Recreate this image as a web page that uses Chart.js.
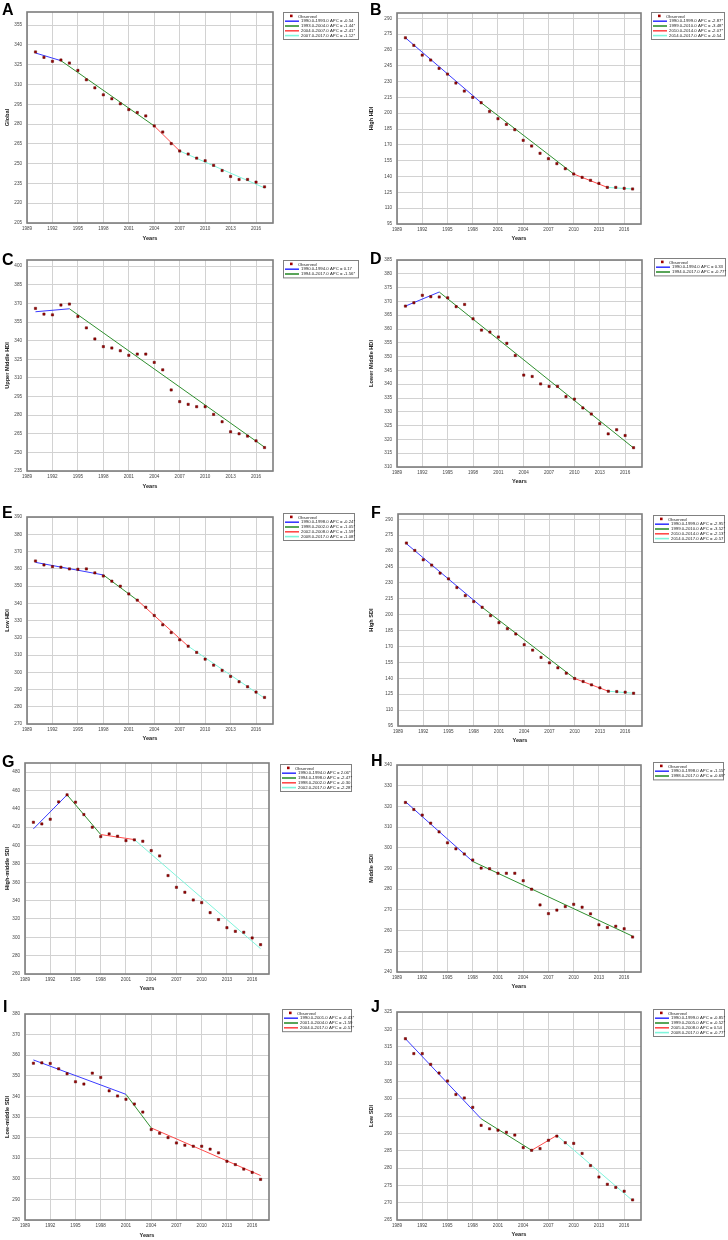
<!DOCTYPE html>
<html>
<head>
<meta charset="utf-8">
<script src="https://cdn.jsdelivr.net/npm/chart.js@4.4.1/dist/chart.umd.min.js"></script>
<style>
  body { margin: 0; background: #fff; font-family: "Liberation Sans", Arial, sans-serif; }
  #page { position: relative; width: 728px; height: 1240px; overflow: hidden; }
  .panel { position: absolute; width: 364px; height: 248px; }
  .panel canvas { position: absolute; left: 0; top: 0; }
  .letter { position: absolute; font-weight: bold; font-size: 16px; line-height: 16px; color: #000; }
</style>
</head>
<body>
<div id="page"></div>
<script>
const years = [1990, 1991, 1992, 1993, 1994, 1995, 1996, 1997, 1998, 1999, 2000, 2001, 2002, 2003,
               2004, 2005, 2006, 2007, 2008, 2009, 2010, 2011, 2012, 2013, 2014, 2015, 2016, 2017];
const xTicks = [1989, 1992, 1995, 1998, 2001, 2004, 2007, 2010, 2013, 2016];

// A - Global
const globalObs = [334.7, 330.6, 327.6, 328.6, 326.3, 320.7, 313.6, 307.5, 302.2, 299.2, 295.4, 291.0, 288.8, 286.2,
                   278.6, 274.0, 265.2, 259.6, 257.3, 254.2, 252.2, 248.7, 244.8, 240.3, 238.0, 238.0, 236.0, 232.4];
const globalJoin = [1990, 1993, 2004, 2007, 2017];
const globalFit = [333.9, 328.1, 278.6, 259.6, 231.6];
const globalApc = ['-0.54', '-1.44*', '-2.41*', '-1.12*'];
const globalYTicks = [205, 220, 235, 250, 265, 280, 295, 310, 325, 340, 355];

// B - High HDI
const highHdiObs = [271.5, 264.3, 255.1, 250.4, 242.5, 237.1, 228.6, 221.0, 215.0, 210.0, 201.7, 194.8, 189.4, 184.4,
                    174.3, 168.9, 162.0, 156.9, 152.2, 147.4, 142.4, 139.2, 136.4, 133.5, 129.7, 129.7, 128.8, 128.2];
const highHdiJoin = [1990, 1999, 2010, 2014, 2017];
const highHdiFit = [271.5, 210.0, 142.4, 129.7, 128.2];
const highHdiApc = ['-2.87*', '-3.48*', '-2.07*', '-0.54'];
const highHdiYTicks = [95, 110, 125, 140, 155, 170, 185, 200, 215, 230, 245, 260, 275, 290];

// C - Upper Middle HDI
const upperMidHdiObs = [366.0, 361.4, 360.8, 368.7, 369.5, 359.5, 350.3, 341.4, 335.2, 334.1, 331.9, 328.2, 329.2, 329.2,
                        322.5, 316.5, 300.3, 290.9, 288.7, 286.8, 286.8, 280.6, 274.7, 266.6, 265.0, 263.1, 259.3, 253.9];
const upperMidHdiJoin = [1990, 1994, 2017];
const upperMidHdiFit = [363.3, 365.7, 254.2];
const upperMidHdiApc = ['0.17', '-1.56*'];
const upperMidHdiYTicks = [235, 250, 265, 280, 295, 310, 325, 340, 355, 370, 385, 400];

// D - Lower Middle HDI
const lowerMidHdiObs = [368.3, 369.5, 372.2, 371.7, 371.6, 371.3, 368.1, 368.9, 363.7, 359.6, 358.9, 357.1, 354.8, 350.4,
                        343.3, 342.8, 340.1, 339.2, 339.2, 335.5, 334.6, 331.4, 329.2, 325.7, 322.0, 323.5, 321.4, 317.0];
const lowerMidHdiJoin = [1990, 1994, 2017];
const lowerMidHdiFit = [368.3, 373.4, 316.9];
const lowerMidHdiApc = ['0.33', '-0.77*'];
const lowerMidHdiYTicks = [310, 315, 320, 325, 330, 335, 340, 345, 350, 355, 360, 365, 370, 375, 380, 385];

// E - Low HDI
const lowHdiObs = [364.5, 362.2, 361.2, 360.9, 359.9, 359.7, 359.9, 357.6, 355.8, 352.8, 349.9, 345.4, 341.8, 337.7,
                   332.9, 327.5, 323.0, 318.8, 315.1, 311.5, 307.6, 304.1, 301.1, 297.6, 294.5, 291.6, 288.5, 285.4];
const lowHdiJoin = [1990, 1998, 2002, 2008, 2017];
const lowHdiFit = [363.7, 356.4, 341.8, 315.1, 285.0];
const lowHdiApc = ['-0.24*', '-1.05*', '-1.59*', '-1.08*'];
const lowHdiYTicks = [270, 280, 290, 300, 310, 320, 330, 340, 350, 360, 370, 380, 390];

// F - High SDI
const highSdiObs = [267.6, 260.6, 251.8, 246.8, 239.2, 233.8, 225.6, 218.0, 212.4, 207.0, 199.1, 192.5, 186.8, 181.8,
                    171.7, 166.6, 159.7, 154.6, 149.9, 144.8, 139.8, 137.0, 133.8, 131.0, 127.8, 127.5, 126.9, 125.9];
const highSdiJoin = [1990, 1999, 2010, 2014, 2017];
const highSdiFit = [267.0, 207.0, 139.8, 127.8, 125.9];
const highSdiApc = ['-2.95*', '-3.52*', '-2.13*', '-0.57'];
const highSdiYTicks = [95, 110, 125, 140, 155, 170, 185, 200, 215, 230, 245, 260, 275, 290];

// G - High-middle SDI
const highMidSdiObs = [425.4, 423.6, 428.7, 447.6, 455.3, 447.3, 433.8, 420.0, 409.8, 412.7, 410.2, 405.4, 406.2, 404.7,
                       394.5, 388.7, 367.3, 354.5, 349.1, 340.7, 337.8, 326.9, 319.3, 310.5, 306.5, 305.5, 299.3, 292.0];
const highMidSdiJoin = [1990, 1994, 1998, 2002, 2017];
const highMidSdiFit = [418.2, 455.3, 412.0, 406.5, 287.6];
const highMidSdiApc = ['2.06*', '-2.47*', '-0.30', '-2.28*'];
const highMidSdiYTicks = [260, 280, 300, 320, 340, 360, 380, 400, 420, 440, 460, 480];

// H - Middle SDI
const midSdiObs = [321.9, 318.5, 315.8, 311.9, 307.7, 302.4, 299.5, 297.0, 294.1, 290.2, 289.9, 287.7, 287.7, 287.7,
                   284.1, 280.0, 272.4, 268.2, 269.9, 271.6, 272.7, 271.3, 268.1, 262.8, 261.5, 262.1, 260.9, 256.9];
const midSdiJoin = [1990, 1998, 2017];
const midSdiFit = [322.3, 293.4, 257.3];
const midSdiApc = ['-1.15*', '-0.69*'];
const midSdiYTicks = [240, 250, 260, 270, 280, 290, 300, 310, 320, 330, 340];

// I - Low-middle SDI
const lowMidSdiObs = [356.1, 356.3, 356.0, 353.4, 351.0, 347.1, 346.0, 351.3, 349.2, 342.7, 340.2, 338.6, 336.3, 332.4,
                      323.9, 322.1, 320.0, 317.4, 316.3, 315.8, 315.8, 314.4, 312.6, 308.5, 306.9, 304.7, 303.1, 299.7];
const lowMidSdiJoin = [1990, 2001, 2004, 2017];
const lowMidSdiFit = [357.7, 341.0, 324.7, 301.6];
const lowMidSdiApc = ['-0.43*', '-1.59', '-0.57*'];
const lowMidSdiYTicks = [280, 290, 300, 310, 320, 330, 340, 350, 360, 370, 380];

// J - Low SDI
const lowSdiObs = [317.3, 313.0, 313.0, 309.9, 307.4, 305.1, 301.2, 300.2, 297.5, 292.3, 291.3, 290.9, 290.3, 289.5,
                   285.9, 285.1, 285.6, 288.0, 289.2, 287.3, 287.1, 284.2, 280.7, 277.4, 275.3, 274.4, 273.3, 270.8];
const lowSdiJoin = [1990, 1999, 2005, 2008, 2017];
const lowSdiFit = [317.3, 294.2, 285.1, 289.4, 270.6];
const lowSdiApc = ['-0.85*', '-0.52*', '0.54', '-0.77*'];
const lowSdiYTicks = [265, 270, 275, 280, 285, 290, 295, 300, 305, 310, 315, 320, 325];

const segColors = ['#3a3aff', '#2f8f2f', '#ff4a4a', '#7ff5dc'];

// panel placement: page offset, plot box (l, t, r, b), legend box (x, y, w), letter pos, "Years" centre y
const panels = [
  { letter: 'A', title: 'Global', obs: globalObs, join: globalJoin, fit: globalFit, apc: globalApc, ticks: globalYTicks, yMax: 365,
    px: 0, py: 0, l: 27, t: 12, r: 273, b: 223, lg: [283, 12, 75], lt: [2, 2], yt: 238.3 },
  { letter: 'B', title: 'High HDI', obs: highHdiObs, join: highHdiJoin, fit: highHdiFit, apc: highHdiApc, ticks: highHdiYTicks, yMax: 295,
    px: 364, py: 0, l: 33, t: 13, r: 277, b: 224, lg: [287, 12, 73], lt: [6, 2], yt: 238.7 },
  { letter: 'C', title: 'Upper Middle HDI', obs: upperMidHdiObs, join: upperMidHdiJoin, fit: upperMidHdiFit, apc: upperMidHdiApc, ticks: upperMidHdiYTicks, yMax: 405,
    px: 0, py: 248, l: 27, t: 12, r: 273, b: 223, lg: [283, 12, 75], lt: [2, 4], yt: 238 },
  { letter: 'D', title: 'Lower Middle HDI', obs: lowerMidHdiObs, join: lowerMidHdiJoin, fit: lowerMidHdiFit, apc: lowerMidHdiApc, ticks: lowerMidHdiYTicks, yMax: 385,
    px: 364, py: 248, l: 33, t: 12, r: 278, b: 219, lg: [290, 10, 71], lt: [6, 3], yt: 233.3 },
  { letter: 'E', title: 'Low HDI', obs: lowHdiObs, join: lowHdiJoin, fit: lowHdiFit, apc: lowHdiApc, ticks: lowHdiYTicks, yMax: 390,
    px: 0, py: 496, l: 27, t: 21, r: 273, b: 228, lg: [283, 17, 71], lt: [2, 9], yt: 242 },
  { letter: 'F', title: 'High SDI', obs: highSdiObs, join: highSdiJoin, fit: highSdiFit, apc: highSdiApc, ticks: highSdiYTicks, yMax: 295,
    px: 364, py: 496, l: 34, t: 18, r: 278, b: 230, lg: [289, 19, 71], lt: [7, 9], yt: 244.3 },
  { letter: 'G', title: 'High-middle SDI', obs: highMidSdiObs, join: highMidSdiJoin, fit: highMidSdiFit, apc: highMidSdiApc, ticks: highMidSdiYTicks, yMax: 490,
    px: 0, py: 744, l: 25, t: 19, r: 269, b: 230, lg: [280, 20, 71], lt: [2, 10], yt: 244.6 },
  { letter: 'H', title: 'Middle SDI', obs: midSdiObs, join: midSdiJoin, fit: midSdiFit, apc: midSdiApc, ticks: midSdiYTicks, yMax: 340,
    px: 364, py: 744, l: 33, t: 21, r: 277, b: 228, lg: [289, 18, 70], lt: [7, 9], yt: 242.3 },
  { letter: 'I', title: 'Low-middle SDI', obs: lowMidSdiObs, join: lowMidSdiJoin, fit: lowMidSdiFit, apc: lowMidSdiApc, ticks: lowMidSdiYTicks, yMax: 380,
    px: 0, py: 992, l: 25, t: 22, r: 269, b: 228, lg: [282, 17, 69], lt: [3, 7], yt: 243.3 },
  { letter: 'J', title: 'Low SDI', obs: lowSdiObs, join: lowSdiJoin, fit: lowSdiFit, apc: lowSdiApc, ticks: lowSdiYTicks, yMax: 325,
    px: 364, py: 992, l: 33, t: 20, r: 277, b: 228, lg: [289, 17, 71], lt: [7, 7], yt: 242 },
];

const FONT = '"Liberation Sans", Arial, sans-serif';
const TITLE_SIZE = 5.6;

// plot frame around the chart area
const frame = {
  id: 'frame',
  afterDraw(chart) {
    const {left, top, right, bottom} = chart.chartArea;
    const ctx = chart.ctx;
    ctx.save();
    ctx.strokeStyle = '#7d7d7d';
    ctx.lineWidth = 1.6;
    ctx.strokeRect(left, top, right - left, bottom - top);
    ctx.restore();
  }
};

// boxed legend at the upper right, outside the plot
const boxLegend = {
  id: 'boxLegend',
  afterDraw(chart, args, opts) {
    const [x, y, w] = opts.box;
    const rowH = 4.8;
    const sets = chart.data.datasets;
    const h = 3 + sets.length * rowH;
    const ctx = chart.ctx;
    ctx.save();
    ctx.fillStyle = '#fff';
    ctx.fillRect(x, y, w, h);
    ctx.strokeStyle = '#808080';
    ctx.lineWidth = 1;
    ctx.strokeRect(x + 0.5, y + 0.5, w, h);
    ctx.font = '4.3px ' + FONT;
    ctx.textBaseline = 'middle';
    sets.forEach((ds, i) => {
      const cy = y + 2 + rowH * (i + 0.5);
      if (i === 0) {
        ctx.fillStyle = '#a00000';
        ctx.fillRect(x + 7, cy - 1.8, 2.6, 2.6);
        ctx.fillStyle = '#222';
        ctx.fillText(ds.label, x + 15, cy);
      } else {
        ctx.strokeStyle = ds.borderColor;
        ctx.lineWidth = 1.6;
        ctx.beginPath();
        ctx.moveTo(x + 2, cy);
        ctx.lineTo(x + 16, cy);
        ctx.stroke();
        ctx.fillStyle = '#222';
        ctx.fillText(ds.label, x + 18, cy);
      }
    });
    ctx.restore();
  }
};

const page = document.getElementById('page');

panels.forEach(p => {
  const div = document.createElement('div');
  div.className = 'panel';
  div.style.left = p.px + 'px';
  div.style.top = p.py + 'px';
  const canvas = document.createElement('canvas');
  canvas.width = 364;
  canvas.height = 248;
  div.appendChild(canvas);
  const letter = document.createElement('div');
  letter.className = 'letter';
  letter.textContent = p.letter;
  letter.style.left = p.lt[0] + 'px';
  letter.style.top = p.lt[1] + 'px';
  div.appendChild(letter);
  page.appendChild(div);

  const datasets = [{
    label: 'Observed',
    data: years.map((yr, i) => ({x: yr, y: p.obs[i]})),
    showLine: false,
    pointStyle: 'rect',
    pointRadius: 1.6,
    backgroundColor: '#9c0000',
    borderColor: '#5a0000',
    borderWidth: 0.5
  }];
  for (let i = 0; i < p.join.length - 1; i++) {
    datasets.push({
      label: p.join[i].toFixed(1) + '-' + p.join[i + 1].toFixed(1) + ' APC = ' + p.apc[i],
      data: [{x: p.join[i], y: p.fit[i]}, {x: p.join[i + 1], y: p.fit[i + 1]}],
      showLine: true,
      borderColor: segColors[i],
      borderWidth: 1,
      pointRadius: 0
    });
  }

  const titlePadBottom = Math.max(0, 248 - p.yt - TITLE_SIZE * 0.6);

  new Chart(canvas, {
    type: 'scatter',
    data: { datasets },
    options: {
      responsive: false,
      animation: false,
      layout: { padding: { left: 0, top: p.t, right: 364 - p.r, bottom: 0 } },
      plugins: {
        legend: { display: false },
        tooltip: { enabled: false },
        boxLegend: { box: p.lg }
      },
      scales: {
        x: {
          type: 'linear',
          min: 1989,
          max: 2018,
          afterBuildTicks: s => { s.ticks = xTicks.map(v => ({value: v})); },
          afterFit: s => { s.height = 248 - p.b; },
          grid: { color: '#d2d2d2', lineWidth: 1, drawTicks: false },
          border: { display: false },
          ticks: { font: { family: FONT, size: 4.6 }, color: '#444', padding: 2.5, maxRotation: 0,
                   callback: v => String(v) },
          title: { display: true, text: 'Years', font: { family: FONT, size: TITLE_SIZE, weight: 'bold' },
                   color: '#222', padding: { top: 0, bottom: titlePadBottom } }
        },
        y: {
          type: 'linear',
          min: p.ticks[0],
          max: p.yMax,
          afterBuildTicks: s => { s.ticks = p.ticks.map(v => ({value: v})); },
          afterFit: s => { s.width = p.l; },
          grid: { color: '#d2d2d2', lineWidth: 1, drawTicks: false },
          border: { display: false },
          ticks: { font: { family: FONT, size: 4.6 }, color: '#444', padding: 5,
                   callback: v => String(v) },
          title: { display: true, text: p.title, font: { family: FONT, size: TITLE_SIZE, weight: 'bold' },
                   color: '#222', padding: { top: 4, bottom: 0 } }
        }
      }
    },
    plugins: [frame, boxLegend]
  });
});
</script>
</body>
</html>
